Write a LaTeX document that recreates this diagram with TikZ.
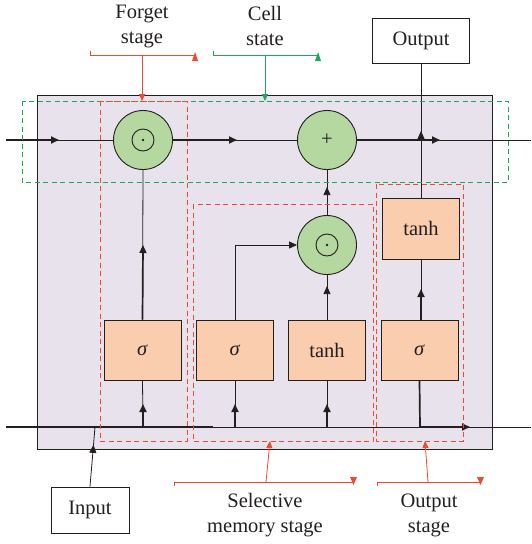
\documentclass[tikz,border=0pt]{standalone}
\usepackage{fontspec}
\setmainfont{Liberation Serif}
\usetikzlibrary{arrows.meta,decorations.markings}
\definecolor{redd}{HTML}{EF4A30}
\definecolor{grn}{HTML}{1BA85A}
\definecolor{lav}{HTML}{E7E2EC}
\definecolor{boxf}{HTML}{F9CDAE}
\definecolor{circf}{HTML}{B4D8A0}
\definecolor{ink}{HTML}{231F20}
\begin{document}
\begin{tikzpicture}[x=1pt,y=-1pt,
  font=\fontsize{20.5}{25}\selectfont, text=ink,
  >={Triangle[length=8pt,width=7pt]},
  thn/.style={draw=ink,line width=0.8pt},
  thk/.style={draw=ink,line width=1.7pt},
  gate/.style={draw=ink,line width=0.9pt,fill=boxf,minimum width=77pt,minimum height=60pt,inner sep=0pt},
  circ/.style={circle,draw=ink,line width=0.9pt,fill=circf,minimum size=59pt,inner sep=0pt},
  iobox/.style={draw=ink,line width=0.9pt,fill=white,inner sep=0pt},
  rdash/.style={draw=redd,line width=0.9pt,dash pattern=on 5pt off 3.5pt},
  gdash/.style={draw=grn,line width=0.9pt,dash pattern=on 5pt off 3.5pt},
  midarrow/.style={postaction={decorate},decoration={markings,mark=at position #1 with {\arrow{>}}}},
  lbl/.style={align=center,inner sep=0pt}
]
\useasboundingbox (0,0) rectangle (531,544);
% main cell
\draw[draw=ink,line width=0.9pt,fill=lav] (37,95) rectangle (492,449);

% gates
\node[circ] (f) at (143,140) {};
\draw[ink,line width=0.9pt] (f.center) circle (11pt);
\fill[ink] (f.center) circle (1.3pt);
\node[circ] (p) at (327,140) {+};
\node[circ] (m) at (327,245) {};
\draw[ink,line width=0.9pt] (m.center) circle (11pt);
\fill[ink] (m.center) circle (1.3pt);

\node[gate] (s1) at (142.5,350) {\textit{σ}};
\node[gate] (s2) at (235,350) {\textit{σ}};
\node[gate] (th) at (327,350) {tanh};
\node[gate] (s3) at (419.5,350) {\textit{σ}};
\node[gate,minimum height=61pt] (t2) at (421,228.5) {tanh};

\node[iobox,minimum width=97pt,minimum height=45pt] (out) at (421,40.5) {Output};
\node[iobox,minimum width=78pt,minimum height=46pt] (in) at (90,510) {Input};

% coordinates
\coordinate (L1) at (6,140);
\coordinate (R1) at (531,140);
\coordinate (L2) at (6,427);
\coordinate (R2) at (531,427);
\coordinate (b1) at (143,427);
\coordinate (b2) at (235,427);
\coordinate (b3) at (327,427);
\coordinate (o1) at (420,427);
\coordinate (o2) at (470,427);
\coordinate (s2c) at (235,245);
\coordinate (oj) at (421,140);
\coordinate (ij) at (95,427);

% cell state line
\draw[thn] (L1) -- (f.west);
\draw[thk,->] (L1) -- (59,140);
\draw[thn] (f.east) -- (p.west);
\draw[thk,->] (f.east) -- (237,140);
\draw[thn] (p.east) -- (R1);
\draw[thk,->] (p.east) -- (440,140);

% output path
\draw[thn] (t2.north) -- (oj);
\draw[thn] (oj) -- (out.south);
\draw[thn,->] (421,150) -- (oj |- 0,131);

% lower mult to plus
\draw[thn,midarrow=0.62] (m.north) -- (p.south);

% forget
\draw[thn] (s1.north) -- (f.south);
\draw[thk,->] (s1.north) -- (143,245);

% selective
\draw[thn,->] (s2.north) -- (s2c) -- (m.west);
\draw[thn,midarrow=0.75] (th.north) -- (m.south);

% output stage
\draw[thn] (s3.north -| t2.south) -- (t2.south);
\draw[thk,->] (s3.north -| t2.south) -- (421,289);
\draw[thk,->] (s3.south) -- (o1) -- (o2);

% input line
\draw[thn] (L2) -- (R2);
\draw[thk] (L2) -- (213,427);
\foreach \b/\g in {b1/s1,b2/s2,b3/th}{
  \draw[thn] (\b) -- (\g.south);
  \draw[thk,->] (\b) -- ++(0,-23);
}
\draw[thn,midarrow=0.7] (in.north) -- (ij);

% dashed stage boxes
\draw[gdash] (22,101) rectangle (508,182);
\draw[rdash] (100,101) rectangle (187,441);
\draw[rdash] (193,204) rectangle (373,441);
\draw[rdash] (376,184) rectangle (463,441);

% labels top
\node[lbl] (fl) at (142,26) {Forget\\stage};
\node[lbl] (cl) at (265,26) {Cell\\state};
\coordinate (fb1) at (90,55); \coordinate (fb2) at (195,55);
\coordinate (fbm) at (142,55); \coordinate (fbt) at (142,101);
\draw[redd,line width=0.8pt] (90,51) -- (fb1) -- (fb2);
\fill[redd] (192,61) -- (198,61) -- (195,52) -- cycle;
\draw[redd,line width=0.8pt,-{Triangle[length=7pt,width=6pt]}] (fbm) -- (fbt);

\coordinate (cb1) at (213,55); \coordinate (cb2) at (318,55);
\coordinate (cbm) at (265,55); \coordinate (cbt) at (265,101);
\draw[grn,line width=0.8pt] (213,51) -- (cb1) -- (cb2);
\fill[grn] (315,61) -- (321,61) -- (318,52) -- cycle;
\draw[grn,line width=0.8pt,-{Triangle[length=7pt,width=6pt]}] (cbm) -- (cbt);

% labels bottom
\node[lbl] (sl) at (265,515) {Selective\\memory stage};
\node[lbl] (ol) at (429,515) {Output\\stage};
\coordinate (sb1) at (174,482); \coordinate (sb2) at (353,482);
\coordinate (sbm) at (266,482); \coordinate (sbt) at (270,441);
\draw[redd,line width=0.8pt] (174,486) -- (sb1) -- (sb2);
\fill[redd] (350,477) -- (357,477) -- (353.5,485) -- cycle;
\draw[redd,line width=0.8pt,-{Triangle[length=7pt,width=6pt]}] (sbm) -- (sbt);

\coordinate (ob1) at (377,482); \coordinate (ob2) at (480,482);
\coordinate (obm) at (428,482); \coordinate (obt) at (425,441);
\draw[redd,line width=0.8pt] (377,486) -- (ob1) -- (ob2);
\fill[redd] (477,477) -- (484,477) -- (480.5,485) -- cycle;
\draw[redd,line width=0.8pt,-{Triangle[length=7pt,width=6pt]}] (obm) -- (obt);
\end{tikzpicture}
\end{document}
